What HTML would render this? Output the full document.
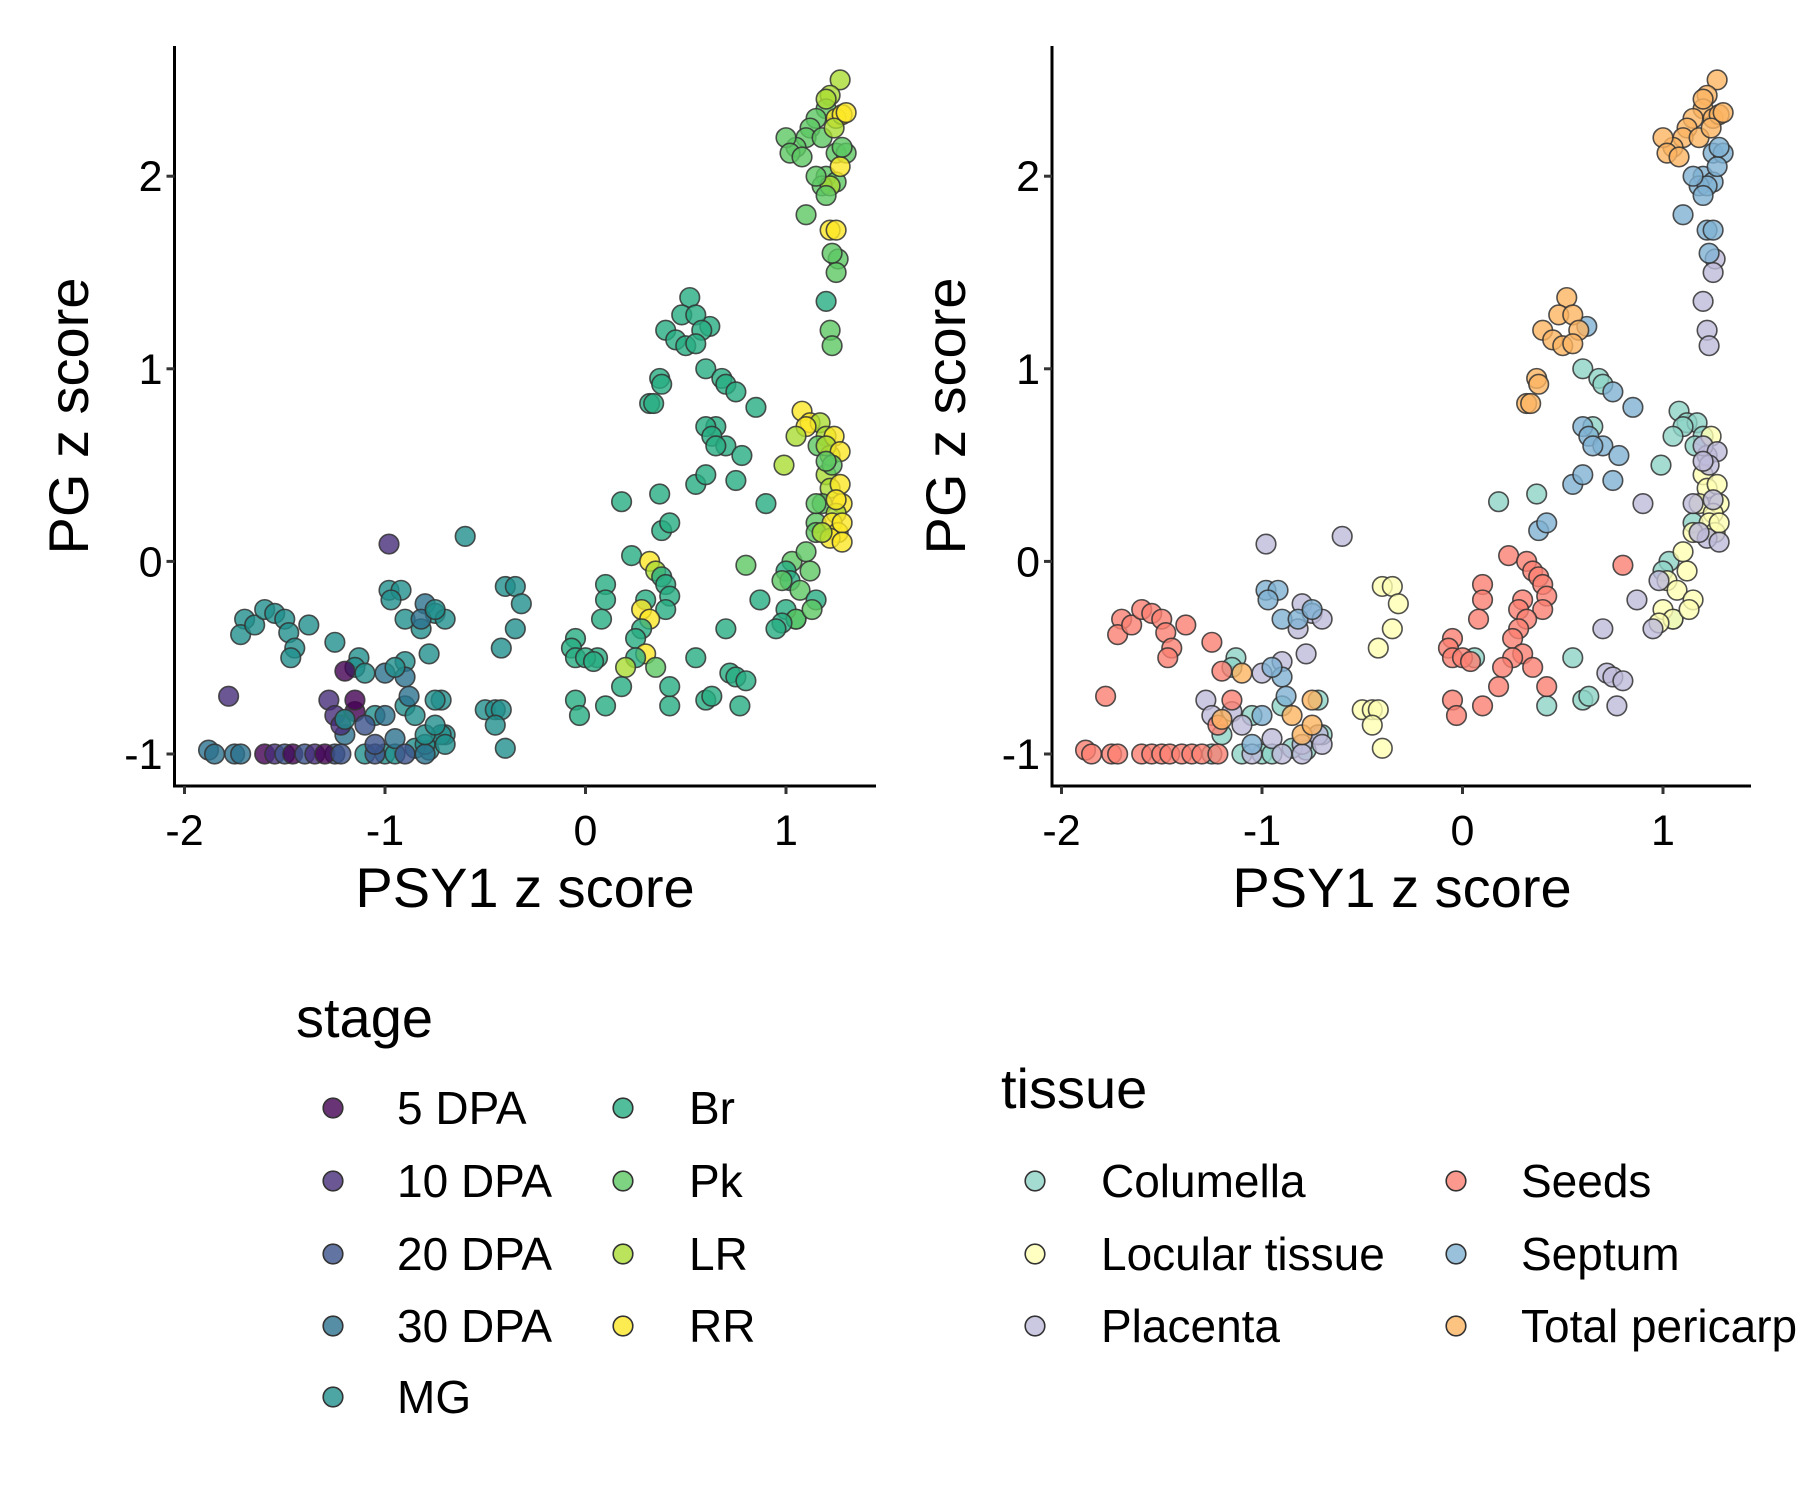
<!DOCTYPE html>
<html><head><meta charset="utf-8"><style>
html,body{margin:0;padding:0;background:#fff;}
svg{display:block;font-family:"Liberation Sans",Arial,sans-serif;}
</style></head><body>
<svg id="chart" width="1800" height="1500" viewBox="0 0 1800 1500" xmlns="http://www.w3.org/2000/svg">
<rect width="1800" height="1500" fill="#fff"/>
<g id="p1"></g>
<g id="p2"></g>
<g id="leg"></g>
</svg>
<script>
const stageNames=["5 DPA","10 DPA","20 DPA","30 DPA","MG","Br","Pk","LR","RR"];
const stageColors=["#440154","#472D7B","#3B528B","#2C728E","#21908C","#27AD81","#5DC863","#AADC32","#FDE725"];
const tissueNames=["Columella","Locular tissue","Placenta","Seeds","Septum","Total pericarp"];
const tissueColors=["#8DD3C7","#FFFFB3","#BEBADA","#FB8072","#80B1D3","#FDB462"];
const xTicks=[-2,-1,0,1];
const yTicks=[-1,0,1,2];

const seedsX=[-1.88,-1.85,-1.78,-1.75,-1.72,-1.6,-1.55,-1.5,-1.46,-1.4,-1.35,-1.3,-1.22,-1.7,-1.72,-1.65,-1.6,-1.55,-1.5,-1.48,-1.45,-1.47,-1.38,-1.25,-1.2,-1.22,-1.15,0.1,0.23,0.32,0.35,0.38,0.4,0.42,0.4,0.3,0.28,0.32,0.28,0.25,0.3,0.25,0.2,0.1,0.08,-0.05,-0.07,-0.05,0.0,0.04,0.18,0.1,-0.05,-0.03,0.35,0.8,0.42];
const seedsY=[-0.98,-1.0,-0.7,-1.0,-1.0,-1.0,-1.0,-1.0,-1.0,-1.0,-1.0,-1.0,-1.0,-0.3,-0.38,-0.33,-0.25,-0.27,-0.3,-0.37,-0.45,-0.5,-0.33,-0.42,-0.57,-0.85,-0.72,-0.12,0.03,0.0,-0.05,-0.08,-0.12,-0.18,-0.25,-0.2,-0.25,-0.3,-0.35,-0.4,-0.48,-0.5,-0.55,-0.2,-0.3,-0.4,-0.45,-0.5,-0.5,-0.52,-0.65,-0.75,-0.72,-0.8,-0.55,-0.02,-0.65];
const seedsStage=[3,3,1,3,3,0,1,2,0,2,1,0,2,4,4,4,4,4,4,4,4,4,4,4,0,1,0,5,5,8,7,5,5,5,5,5,8,8,5,5,8,5,7,5,5,5,5,5,5,5,5,5,5,5,6,6,5];

const columX=[-1.13,-1.15,-0.72,-1.05,-0.9,-1.2,-0.7,-1.25,-1.1,-1.0,-0.95,-0.78,-0.85,0.6,0.68,0.7,0.65,0.37,0.18,1.08,1.12,1.17,1.1,1.2,1.05,0.99,1.16,1.05,1.03,1.0,1.15,0.6,0.63,0.55,0.42,0.06];
const columY=[-0.5,-0.55,-0.72,-0.8,-0.75,-0.9,-0.9,-1.0,-1.0,-1.0,-1.0,-0.98,-0.97,1.0,0.95,0.92,0.7,0.35,0.31,0.78,0.72,0.72,0.7,0.65,0.65,0.5,0.6,-0.3,0.0,-0.05,0.2,-0.72,-0.7,-0.5,-0.75,-0.5];
const columStage=[4,4,4,4,4,3,4,2,4,4,4,4,4,5,5,5,5,5,5,8,8,7,8,7,7,7,6,5,6,5,6,5,5,5,5,5];

const locX=[-0.4,-0.35,-0.32,-0.35,-0.42,-0.5,-0.45,-0.42,-0.45,-0.4,1.24,1.2,1.22,1.18,1.27,1.28,1.25,1.23,1.26,1.28,1.15,1.1,1.12,1.02,1.07,1.15,1.0,1.05,0.98,1.13];
const locY=[-0.13,-0.13,-0.22,-0.35,-0.45,-0.77,-0.77,-0.77,-0.85,-0.97,0.65,0.45,0.38,0.3,0.4,0.3,0.25,0.2,0.15,0.2,0.15,0.05,-0.05,-0.1,-0.15,-0.2,-0.25,-0.3,-0.32,-0.25];
const locStage=[4,4,4,4,4,4,4,4,4,4,8,7,7,6,8,8,7,8,8,8,6,6,6,5,6,5,5,6,5,6];

const placX=[-0.98,-0.6,-1.28,-1.25,-1.15,-1.0,-0.9,-0.8,-0.82,-0.75,-0.7,-0.78,-1.1,-0.95,-0.8,-0.72,-0.7,-1.05,-0.9,-0.8,1.26,1.25,1.2,1.22,1.23,1.22,1.2,1.27,1.23,1.2,1.25,1.15,1.22,1.28,1.18,0.9,0.98,0.87,0.95,0.7,0.72,0.75,0.77,0.8];
const placY=[0.09,0.13,-0.72,-0.8,-0.78,-0.58,-0.52,-0.22,-0.35,-0.27,-0.3,-0.48,-0.85,-0.92,-0.95,-0.9,-0.95,-1.0,-1.0,-1.0,1.57,1.5,1.35,1.2,1.12,0.55,0.6,0.57,0.5,0.52,0.32,0.3,0.12,0.1,0.15,0.3,-0.1,-0.2,-0.35,-0.35,-0.58,-0.6,-0.75,-0.62];
const placStage=[1,4,1,1,0,3,4,3,4,4,4,4,2,3,4,4,4,2,2,3,6,6,5,6,6,7,7,8,6,6,8,6,8,8,7,5,6,5,5,5,5,5,5,5];

const septX=[-0.98,-0.92,-0.97,-0.9,-0.82,-0.75,-0.9,-0.88,-1.0,-0.95,-1.05,0.62,0.75,0.85,0.6,0.63,0.7,0.65,0.78,0.75,0.55,0.38,0.42,0.6,1.25,1.3,1.2,1.25,1.18,1.22,1.2,1.15,1.27,1.1,1.22,1.25,1.23,1.28];
const septY=[-0.15,-0.15,-0.2,-0.3,-0.3,-0.25,-0.6,-0.7,-0.8,-0.55,-0.95,1.22,0.88,0.8,0.7,0.65,0.6,0.6,0.55,0.42,0.4,0.16,0.2,0.45,2.12,2.12,2.0,1.97,1.95,1.95,1.9,2.0,2.05,1.8,1.72,1.72,1.6,2.15];
const septStage=[4,4,4,4,3,4,3,3,3,4,2,5,5,5,5,5,5,5,5,5,5,5,5,5,6,6,6,6,6,7,6,6,8,6,8,8,6,6];

const periX=[1.27,1.22,1.2,1.15,1.12,1.25,1.28,1.1,1.05,1.18,1.24,1.0,1.02,1.08,1.2,1.3,0.52,0.48,0.55,0.4,0.45,0.5,0.58,0.55,0.37,0.38,0.32,0.34,-1.1,-1.2,-0.85,-0.8,-0.75,-0.75];
const periY=[2.5,2.42,2.35,2.3,2.25,2.3,2.32,2.2,2.15,2.2,2.25,2.2,2.12,2.1,2.4,2.33,1.37,1.28,1.28,1.2,1.15,1.12,1.2,1.13,0.95,0.92,0.82,0.82,-0.58,-0.82,-0.8,-0.9,-0.85,-0.72];
const periStage=[7,7,6,6,6,8,8,6,6,6,7,6,6,6,7,8,5,5,5,5,5,5,5,5,5,5,5,5,4,4,4,4,4,4];

const groups=[[columX,columY,columStage,0],[locX,locY,locStage,1],[placX,placY,placStage,2],[seedsX,seedsY,seedsStage,3],[septX,septY,septStage,4],[periX,periY,periStage,5]];

const NS="http://www.w3.org/2000/svg";
function mk(tag,attrs,parent){const e=document.createElementNS(NS,tag);for(const k in attrs)e.setAttribute(k,attrs[k]);parent.appendChild(e);return e;}
const panels=[{g:document.getElementById('p1'),x0:585.5,ax:174.5,axEnd:876,mode:'stage'},{g:document.getElementById('p2'),x0:1462.5,ax:1052,axEnd:1751,mode:'tissue'}];
const UX=200.5,UY=192.6,Y0=561.4,AXY=786,AXTOP=46;
panels.forEach((p,pi)=>{
  const sx=d=>p.x0+d*UX, sy=d=>Y0-d*UY;
  const pts=mk('g',{},p.g);
  
  
  groups.forEach(gr=>{
    const [xs,ys,st,t]=gr;
    for(let i=0;i<xs.length;i++){
      const c=mk('circle',{cx:sx(xs[i]),cy:sy(ys[i]),r:9.8,fill:p.mode==='stage'?stageColors[st[i]]:tissueColors[t],'fill-opacity':0.8,stroke:'#333','stroke-opacity':0.85,'stroke-width':1.6},pts);
      
      
    }
  });
  const ya=mk('line',{x1:p.ax,y1:AXTOP,x2:p.ax,y2:AXY+1.5,stroke:'#000','stroke-width':3},p.g);
  
  const xa=mk('line',{x1:p.ax-1.5,y1:AXY,x2:p.axEnd,y2:AXY,stroke:'#000','stroke-width':3},p.g);
  
  yTicks.forEach(v=>{
    mk('line',{x1:p.ax-8,y1:sy(v),x2:p.ax,y2:sy(v),stroke:'#333','stroke-width':3},p.g);
    const t=mk('text',{x:p.ax-12,y:sy(v)+15,'text-anchor':'end','font-size':43,fill:'#000'},p.g);
    t.textContent=v;
    
  });
  xTicks.forEach(v=>{
    mk('line',{x1:sx(v),y1:AXY,x2:sx(v),y2:AXY+8,stroke:'#333','stroke-width':3},p.g);
    const t=mk('text',{x:sx(v),y:845,'text-anchor':'middle','font-size':43,fill:'#000'},p.g);
    t.textContent=v;
    
  });
  const xt=mk('text',{x:pi===0?525:1402,y:907,'text-anchor':'middle','font-size':56,fill:'#000'},p.g);
  xt.textContent='PSY1 z score';
  
  const yx=pi===0?88:965;
  const yt=mk('text',{x:yx,y:416,'text-anchor':'middle','font-size':56,fill:'#000',transform:`rotate(-90 ${yx} 416)`},p.g);
  yt.textContent='PG z score';
  
});
const leg=document.getElementById('leg');
function title(txt,x,y,name){const t=mk('text',{x:x,y:y,'font-size':56,fill:'#000'},leg);t.textContent=txt;}
function entry(cx,cy,col,lx,txt){
  const g=mk('g',{},leg);
  
  
  mk('circle',{cx:cx,cy:cy,r:9.8,fill:col,'fill-opacity':0.8,stroke:'#333','stroke-width':1.6},g);
  const t=mk('text',{x:lx,y:cy+16,'font-size':46,fill:'#000'},g);t.textContent=txt;
}
title('stage',296,1037,'stage-legend-title');
const sRows=[1108,1181,1254,1326,1397];
stageNames.forEach((n,i)=>{const col=i<5?0:1,row=i<5?i:i-5;entry(col?623:333,sRows[row],stageColors[i],col?689:397,n);});
title('tissue',1001,1108,'tissue-legend-title');
const tRows=[1181,1254,1326];
tissueNames.forEach((n,i)=>{const col=i<3?0:1,row=i%3;entry(col?1456:1035,tRows[row],tissueColors[i],col?1521:1101,n);});
</script>
</body></html>
